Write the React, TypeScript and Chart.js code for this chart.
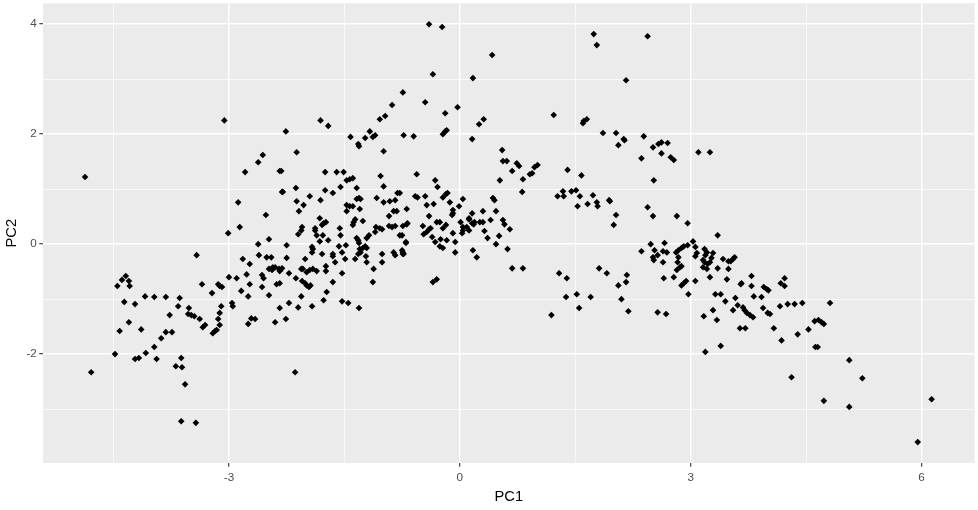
import React, { useEffect, useRef } from "react";
import { Chart, registerables } from "chart.js";

Chart.register(...registerables);

// PCA scores: [PC1, PC2]
const SCORES: [number, number][] = [
  [-4.87, 1.22], [-4.79, -2.33], [-4.45, -0.76], [-4.39, -0.65], [-4.34, -0.58], [-4.30, -0.67], [-4.29, -0.76], [-4.09, -0.95], [-3.97, -0.96], [-3.82, -0.96],
  [-3.64, -0.98], [-3.42, -0.20], [-3.35, -0.73], [-3.22, -0.89], [-3.14, -0.73], [-3.12, -0.76], [-3.09, -0.78], [-3.01, 0.20], [-3.00, -0.60], [-2.90, -0.62],
  [-2.86, 0.31], [-2.88, 0.76], [-2.79, 1.31], [-2.62, 1.49], [-2.56, 1.62], [-2.34, 1.33], [-2.31, 0.95], [-2.52, 0.53], [-2.48, 0.09], [-2.62, 0.00],
  [-2.61, -0.20], [-2.51, -0.24], [-2.45, -0.24], [-2.82, -0.27], [-2.73, -0.36], [-2.77, -0.55], [-2.57, -0.56], [-2.55, -0.62], [-2.48, -0.45], [-2.43, -0.42],
  [-2.40, -0.42], [-2.35, -0.45], [-2.73, -0.73], [-2.57, -0.78], [-2.84, -0.85], [-2.75, -0.95], [-2.48, -0.93], [-2.38, -0.73], [-2.34, -0.71], [-4.36, -1.05],
  [-4.22, -1.09], [-3.66, -1.13], [-3.52, -1.16], [-3.53, -1.27], [-3.49, -1.29], [-3.45, -1.31], [-3.38, -1.36], [-3.10, -1.13], [-3.12, -1.25], [-3.14, -1.36],
  [-3.12, -1.47], [-2.96, -1.07], [-2.95, -1.13], [-2.71, -1.35], [-2.66, -1.36], [-2.75, -1.45], [-2.40, -1.42], [-2.34, -1.16], [-3.77, -1.29], [-4.30, -1.42],
  [-4.42, -1.58], [-4.14, -1.55], [-3.82, -1.60], [-3.74, -1.60], [-3.88, -1.71], [-3.97, -1.87], [-4.08, -1.98], [-4.48, -2.00], [-4.22, -2.09], [-4.17, -2.07],
  [-3.94, -2.09], [-3.34, -1.51], [-3.31, -1.47], [-3.21, -1.62], [-3.18, -1.58], [-3.16, -1.56], [-3.62, -2.07], [-3.69, -2.22], [-3.61, -2.24], [-3.57, -2.55],
  [-3.62, -3.22], [-3.43, -3.25], [-3.06, 2.25], [-2.14, -2.33],
  [-2.26, 2.05], [-2.12, 1.67], [-1.81, 2.25], [-1.71, 2.15], [-2.32, 1.33], [-2.30, 0.95], [-2.13, 1.02], [-2.12, 0.78], [-2.03, 0.71], [-2.09, 0.60],
  [-1.95, 0.87], [-1.81, 0.80], [-1.75, 1.31], [-1.75, 0.98], [-1.65, 0.93], [-1.60, 1.31], [-1.51, 1.31], [-1.55, 1.04], [-1.47, 1.16], [-1.43, 1.18],
  [-1.39, 1.20], [-1.34, 1.02], [-1.42, 1.95], [-1.32, 1.82], [-1.31, 1.78], [-1.23, 1.93], [-1.17, 2.05], [-1.13, 1.95], [-1.10, 1.98], [-1.04, 2.27],
  [-0.97, 2.33], [-0.88, 2.53], [-0.99, 1.69], [-1.03, 1.24], [-0.99, 1.05], [-1.08, 0.84], [-1.47, 0.71], [-1.43, 0.69], [-1.39, 0.69], [-1.34, 0.82],
  [-1.31, 0.84], [-1.29, 0.82], [-1.47, 0.60], [-1.30, 0.64], [-1.82, 0.47], [-1.79, 0.35], [-1.77, 0.38], [-1.74, 0.40], [-2.05, 0.31], [-1.88, 0.29],
  [-1.56, 0.29], [-1.36, 0.45], [-1.38, 0.40], [-1.39, 0.35], [-1.26, 0.42], [-0.99, 0.76], [-0.91, 0.78], [-0.84, 0.80], [-0.81, 0.93], [-0.92, 0.51],
  [-0.86, 0.60], [-0.82, 0.60], [-0.69, 0.64], [-1.09, 0.31], [-1.04, 0.29], [-0.92, 0.33], [-0.88, 0.31], [-0.84, 0.33], [-0.74, 0.33], [-0.69, 0.36],
  [-0.73, 1.98], [-0.60, 1.96], [-0.45, 2.58], [-0.19, 2.38], [-0.03, 2.49], [-0.22, 2.00], [-0.19, 2.05], [-0.17, 2.07], [-0.56, 1.27], [-0.32, 1.16],
  [-0.29, 1.04], [-0.58, 0.87], [-0.55, 0.85], [-0.45, 0.87], [-0.43, 0.71], [-0.34, 0.73], [-0.22, 0.85], [-0.18, 0.91], [-0.16, 0.93], [-0.13, 0.76],
  [0.04, 0.82], [-0.01, 0.69], [-0.09, 0.62], [-0.09, 0.56], [-0.10, 0.53], [-0.40, 0.51], [-0.30, 0.40], [-0.26, 0.40], [-0.48, 0.33], [-0.38, 0.29],
  [-0.18, 0.35], [-0.22, 0.29], [0.01, 0.40], [0.12, 0.45], [0.04, 0.31],
  [-0.40, 4.00], [-0.23, 3.95], [0.42, 3.44], [-0.35, 3.09], [0.17, 3.02], [-0.74, 2.76], [0.25, 2.18], [0.31, 2.27], [0.16, 1.91],
  [-2.06, 0.25], [-2.10, 0.18], [-1.88, 0.25], [-1.86, 0.16], [-1.82, 0.05], [-1.78, 0.16], [-1.71, 0.07], [-1.55, 0.16], [-2.25, -0.02], [-2.25, -0.25],
  [-2.01, -0.27], [-1.92, -0.05], [-1.91, -0.09], [-1.92, -0.15], [-1.79, -0.18], [-1.65, -0.18], [-1.65, -0.22], [-1.62, -0.33], [-1.57, -0.04], [-1.53, -0.15],
  [-1.48, -0.02], [-1.49, -0.27], [-1.36, -0.27], [-1.34, 0.11], [-1.32, 0.07], [-1.31, 0.02], [-1.30, -0.09], [-1.26, -0.07], [-1.23, -0.04], [-1.21, -0.07],
  [-1.32, -0.18], [-1.29, -0.15], [-1.22, -0.22], [-1.21, -0.33], [-1.21, 0.11], [-1.18, 0.16], [-1.10, 0.22], [-1.01, 0.27], [-0.78, 0.16], [-0.70, 0.04],
  [-1.01, -0.18], [-1.01, -0.33], [-0.86, -0.15], [-0.84, -0.20], [-0.75, -0.11], [-0.73, -0.18], [-1.12, -0.45], [-1.13, -0.69], [-2.31, -0.44], [-2.34, -0.49],
  [-2.44, -0.47], [-2.22, -0.53], [-2.13, -0.62], [-2.06, -0.45], [-2.04, -0.45], [-1.99, -0.51], [-1.95, -0.47], [-1.91, -0.45], [-1.86, -0.49], [-2.05, -0.67],
  [-2.01, -0.71], [-1.99, -0.75], [-1.96, -0.78], [-1.94, -0.75], [-1.74, -0.40], [-1.74, -0.49], [-1.65, -0.69], [-1.53, -0.53], [-2.06, -0.95], [-1.73, -0.87],
  [-1.77, -1.02], [-2.22, -1.07], [-2.10, -1.15], [-1.92, -1.13], [-2.26, -1.36], [-1.53, -1.04], [-1.45, -1.07], [-1.31, -1.16], [-0.47, 0.18], [-0.43, 0.22],
  [-0.40, 0.27], [-0.36, 0.13], [-0.32, 0.04], [-0.25, 0.09], [-0.17, 0.07], [-0.26, -0.04], [-0.22, -0.07], [-0.09, 0.20], [-0.06, 0.04], [-0.06, -0.15],
  [0.03, 0.20], [-0.35, -0.69], [-0.30, -0.64], [0.09, 0.31],
  [0.55, 1.71], [0.56, 1.51], [0.61, 1.51], [0.74, 1.47], [0.77, 1.42], [0.68, 1.33], [0.52, 1.16], [0.82, 1.18], [0.91, 1.27], [0.97, 1.40],
  [1.01, 1.44], [0.81, 0.95], [1.40, 1.35], [1.27, 0.87], [1.34, 0.96], [1.35, 0.87], [0.43, 0.84], [0.45, 0.80], [0.30, 0.60], [0.47, 0.60],
  [0.16, 0.56], [0.12, 0.47], [0.16, 0.38], [0.19, 0.40], [0.26, 0.40], [0.30, 0.40], [0.40, 0.44], [0.56, 0.44], [0.58, 0.36], [0.65, 0.27],
  [0.04, 0.25], [0.12, 0.25], [0.18, 0.36], [0.32, 0.24], [0.36, 0.11], [0.51, 0.15], [0.47, 0.00], [0.62, -0.09], [0.17, -0.11], [0.22, -0.24],
  [-0.68, 0.38], [-0.75, 0.16], [-0.70, 0.02], [-0.74, -0.15], [-0.74, -0.18], [-0.78, 0.93], [0.68, -0.44], [0.82, -0.44], [1.29, -0.53], [1.39, -0.62],
  [1.74, 3.82], [1.78, 3.62], [2.44, 3.78], [2.16, 2.98], [1.22, 2.35], [1.60, 2.20], [1.61, 2.24], [1.65, 2.27], [1.86, 2.02], [2.03, 2.02],
  [2.13, 1.91], [2.14, 1.89], [2.06, 1.80], [2.39, 1.96], [2.51, 1.76], [2.58, 1.82], [2.62, 1.85], [2.70, 1.84], [2.62, 1.65], [2.36, 1.56],
  [2.74, 1.58], [2.78, 1.53], [3.10, 1.67], [3.25, 1.67], [2.52, 1.16], [0.94, 1.29], [1.58, 1.25], [1.45, 0.96], [1.51, 0.98], [1.56, 0.87],
  [1.53, 0.69], [1.66, 0.73], [1.73, 0.89], [1.78, 0.76], [1.79, 0.69], [1.94, 0.80], [1.95, 0.78], [2.03, 0.53], [2.00, 0.35], [2.44, 0.67],
  [2.51, 0.51], [2.82, 0.51], [2.96, 0.38], [3.35, 0.16], [2.48, 0.00], [2.36, -0.13], [2.53, -0.11], [2.66, 0.02], [2.64, -0.13], [2.69, -0.15],
  [2.51, -0.24], [2.52, -0.29], [2.57, -0.20], [2.64, -0.33], [2.81, -0.15], [2.84, -0.11], [2.88, -0.07], [2.91, -0.04], [2.96, -0.02], [2.84, -0.24],
  [2.83, -0.33], [3.03, 0.05], [3.06, -0.05], [3.08, -0.16], [3.06, -0.22], [3.18, -0.09], [3.21, -0.15], [3.19, -0.20], [3.16, -0.29], [3.18, -0.33],
  [3.22, -0.36], [3.25, -0.33], [3.27, -0.25], [3.29, -0.16], [3.16, -0.42], [3.21, -0.45], [3.35, -0.44], [3.42, -0.27], [3.49, -0.31], [2.82, -0.47],
  [2.86, -0.42], [2.88, -0.40], [2.78, -0.60], [2.88, -0.75], [2.91, -0.71], [2.94, -0.67], [3.06, -0.67], [3.25, -0.60], [3.47, -0.64], [2.65, -0.62],
  [2.97, -0.91], [3.32, -0.91], [3.39, -0.91], [3.45, -1.04], [3.29, -1.20], [3.17, -1.31], [3.34, -1.38], [2.57, -1.24], [2.68, -1.27], [2.19, -1.22],
  [2.10, -1.00], [2.17, -0.56], [2.16, -0.69], [2.06, -0.75], [1.81, -0.44], [1.91, -0.53], [1.38, -0.96], [1.52, -0.91], [1.70, -0.96], [1.55, -1.16],
  [1.19, -1.29],
  [3.57, -0.24], [3.55, -0.27], [3.52, -0.31], [3.49, -0.45], [3.58, -0.98], [3.65, -0.73], [3.66, -0.71], [3.79, -0.58], [3.79, -0.76], [3.82, -0.95],
  [3.92, -0.96], [3.95, -0.78], [3.99, -0.82], [4.01, -0.84], [4.17, -0.71], [4.22, -0.76], [4.22, -0.62], [3.55, -1.20], [3.61, -1.11], [3.68, -1.15],
  [3.70, -1.20], [3.73, -1.25], [3.77, -1.29], [3.81, -1.33], [3.64, -1.53], [3.71, -1.53], [3.39, -1.85], [3.19, -1.96], [3.94, -1.16], [4.00, -1.25],
  [4.03, -1.27], [4.08, -1.53], [4.18, -1.75], [4.16, -1.13], [4.26, -1.09], [4.35, -1.09], [4.45, -1.07], [4.39, -1.64], [4.53, -1.55], [4.61, -1.40],
  [4.66, -1.38], [4.70, -1.42], [4.73, -1.45], [4.81, -1.07], [4.62, -1.87], [4.65, -1.87], [4.31, -2.42], [4.73, -2.85], [5.06, -2.11], [5.23, -2.44],
  [5.06, -2.96], [5.95, -3.60], [6.13, -2.82],
];

const X_TICKS = [-4.5, -3, -1.5, 0, 1.5, 3, 4.5, 6];
const X_LABELS = [-3, 0, 3, 6];
const Y_TICKS = [-3, -2, -1, 0, 1, 2, 3, 4];
const Y_LABELS = [-2, 0, 2, 4];

const FONT = "'Liberation Sans', Arial, Helvetica, sans-serif";

const panelBg = {
  id: "panelBg",
  beforeDraw(chart: any) {
    const { ctx, chartArea } = chart;
    if (!chartArea) return;
    ctx.save();
    ctx.fillStyle = "#EBEBEB";
    ctx.fillRect(chartArea.left, chartArea.top, chartArea.right - chartArea.left, chartArea.bottom - chartArea.top);
    ctx.restore();
  },
};

function axisOptions(ticks: number[], labels: number[], min: number, max: number, title: string, horizontal: boolean) {
  const isMajor = (v: number) => labels.includes(v);
  return {
    type: "linear" as const,
    min,
    max,
    afterBuildTicks: (scale: any) => {
      scale.ticks = ticks.map((v) => ({ value: v }));
    },
    afterFit: (scale: any) => {
      if (horizontal) scale.height = 47;
      else scale.width = 43;
      scale.paddingTop = 0;
      scale.paddingBottom = 0;
      scale.paddingLeft = 0;
      scale.paddingRight = 0;
    },
    border: { display: false },
    grid: {
      color: "#FFFFFF",
      lineWidth: (c: any) => (c.tick && isMajor(c.tick.value) ? 1.4 : 0.7),
      drawTicks: true,
      tickLength: 3.7,
      tickWidth: 1.1,
      tickColor: (c: any) => (c.tick && isMajor(c.tick.value) ? "#333333" : "rgba(0,0,0,0)"),
    },
    ticks: {
      autoSkip: false,
      maxRotation: 0,
      padding: horizontal ? 4 : 2.5,
      color: "#4D4D4D",
      font: { family: FONT, size: 11.7 },
      callback: (v: any) => (isMajor(Number(v)) ? String(v) : ""),
    },
    title: {
      display: true,
      text: title,
      color: "#000000",
      font: { family: FONT, size: 14.7 },
      padding: horizontal ? { top: 0, bottom: 4 } : { top: 3, bottom: 0 },
    },
  };
}

export default function App() {
  const canvasRef = useRef<HTMLCanvasElement | null>(null);

  useEffect(() => {
    if (!canvasRef.current) return;
    const chart = new Chart(canvasRef.current, {
      type: "scatter",
      data: {
        datasets: [
          {
            data: SCORES.map(([x, y]) => ({ x, y })),
            pointStyle: "rectRot",
            pointRadius: 3.3,
            pointHoverRadius: 3.3,
            backgroundColor: "#000000",
            borderColor: "#000000",
            borderWidth: 0,
          },
        ],
      },
      options: {
        animation: false,
        responsive: false,
        maintainAspectRatio: false,
        devicePixelRatio: 1,
        layout: { padding: { top: 3, right: 3, left: 0, bottom: 0 } },
        plugins: { legend: { display: false }, tooltip: { enabled: false } },
        scales: {
          x: axisOptions(X_TICKS, X_LABELS, -5.416, 6.69, "PC1", true),
          y: axisOptions(Y_TICKS, Y_LABELS, -3.98, 4.38, "PC2", false),
        },
      },
      plugins: [panelBg],
    });
    return () => chart.destroy();
  }, []);

  return (
    <div style={{ position: "absolute", left: 0, top: 0, width: 978, height: 510, background: "#FFFFFF" }}>
      <canvas ref={canvasRef} width={978} height={510} />
    </div>
  );
}
